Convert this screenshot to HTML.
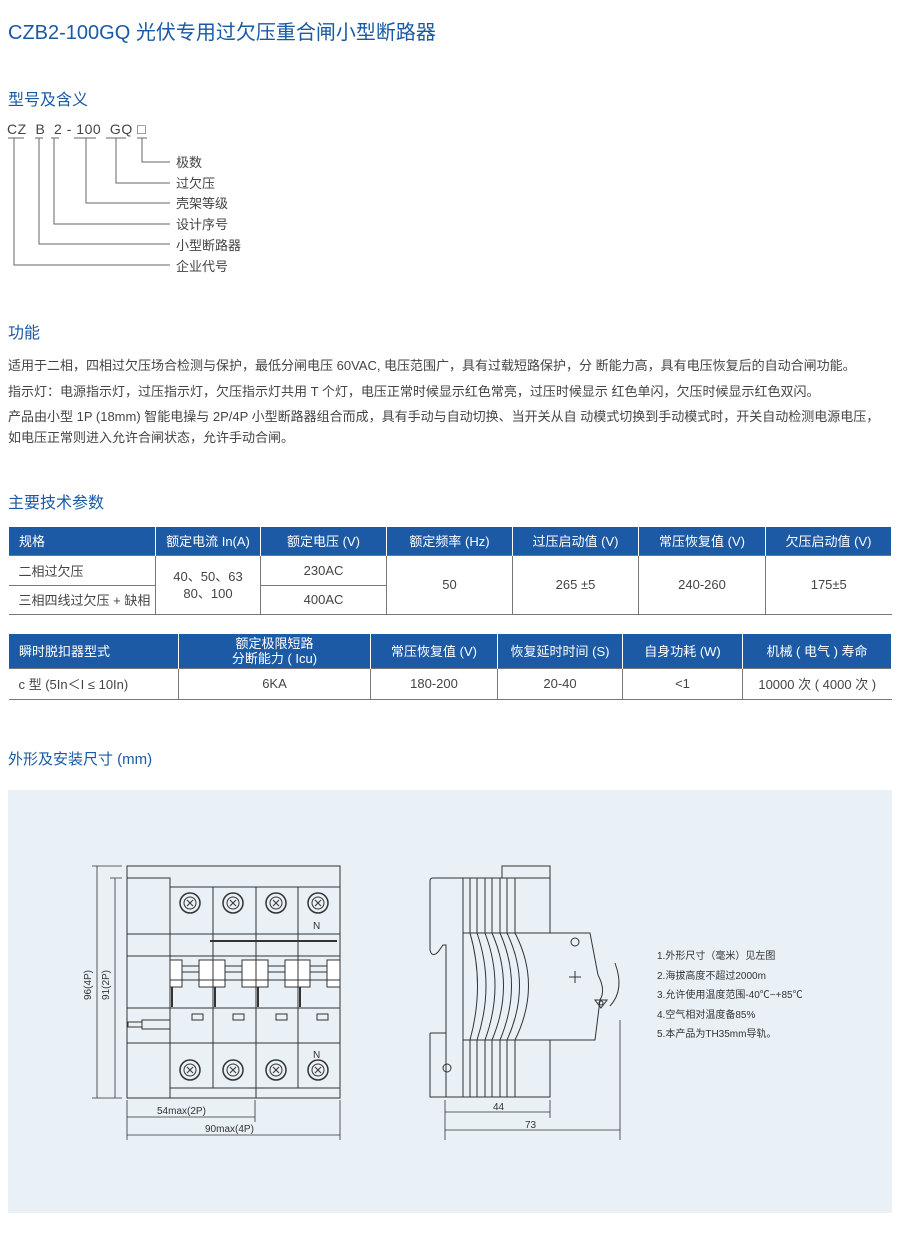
<!DOCTYPE html>
<html><head><meta charset="utf-8"><style>
*{margin:0;padding:0;box-sizing:border-box}
body{width:900px;height:1235px;background:#fff;font-family:"Liberation Sans","Noto Sans CJK SC",sans-serif;color:#444;position:relative;overflow:hidden}
.a{position:absolute;white-space:nowrap}
.h{color:#1a5aa5;font-size:16px}
.p{font-size:13px;color:#444;left:8px}
table{position:absolute;border-collapse:collapse;font-size:13px;color:#444}
td,th{border:1px solid #777;text-align:center;font-weight:normal;padding:0}
th{background:#1d5aa6;color:#fff;border-color:#fff;border-top:none;border-bottom:none}
</style></head><body>
<div class="a" style="left:8px;top:16px;font-size:20px;color:#1a5aa5">CZB2-100GQ 光伏专用过欠压重合闸小型断路器</div>
<div class="a h" style="left:8px;top:86px">型号及含义</div>
<div class="a" style="left:7px;top:121px;font-size:14px;color:#444;letter-spacing:0.5px">CZ&nbsp; B&nbsp; 2 - 100&nbsp; GQ &#9633;</div>
<svg class="a" style="left:0;top:110px" width="300" height="170">
<g stroke="#666" fill="none" stroke-width="1">
<path d="M8 28h16M35 28h8M51 28h8M74 28h22M106 28h20M137 28h10"/>
<path d="M142 28V52H170M116 28V73H170M86 28V93H170M54 28V114H170M39 28V134H170M14 28V155H170"/>
</g></svg>
<div class="a" style="left:176px;top:153px;font-size:13px;line-height:20.7px;color:#444">极数<br>过欠压<br>壳架等级<br>设计序号<br>小型断路器<br>企业代号</div>
<div class="a h" style="left:8px;top:319px">功能</div>
<div class="a p" style="top:355px">适用于二相，四相过欠压场合检测与保护，最低分闸电压 60VAC, 电压范围广，具有过载短路保护，分 断能力高，具有电压恢复后的自动合闸功能。</div>
<div class="a p" style="top:381px">指示灯：电源指示灯，过压指示灯，欠压指示灯共用 T 个灯，电压正常时候显示红色常亮，过压时候显示 红色单闪，欠压时候显示红色双闪。</div>
<div class="a p" style="top:406px">产品由小型 1P (18mm) 智能电操与 2P/4P 小型断路器组合而成，具有手动与自动切换、当开关从自 动模式切换到手动模式时，开关自动检测电源电压，</div>
<div class="a p" style="top:427px">如电压正常则进入允许合闸状态，允许手动合闸。</div>
<div class="a h" style="left:8px;top:489px">主要技术参数</div>
<table style="left:8px;top:527px;width:884px">
<tr style="height:28px"><th style="width:147px;text-align:left;padding-left:10px">规格</th><th style="width:105px">额定电流 In(A)</th><th style="width:126px">额定电压 (V)</th><th style="width:126px">额定频率 (Hz)</th><th style="width:126px">过压启动值 (V)</th><th style="width:127px">常压恢复值 (V)</th><th>欠压启动值 (V)</th></tr>
<tr style="height:30px"><td style="text-align:left;padding-left:10px;border-left:none">二相过欠压</td><td rowspan="2" style="line-height:17px">40、50、63<br>80、100</td><td>230AC</td><td rowspan="2">50</td><td rowspan="2">265 ±5</td><td rowspan="2">240-260</td><td rowspan="2" style="border-right:none">175±5</td></tr>
<tr style="height:29px"><td style="text-align:left;padding-left:10px;border-left:none">三相四线过欠压 + 缺相</td><td>400AC</td></tr>
</table>
<table style="left:8px;top:634px;width:884px">
<tr style="height:34px"><th style="width:170px;text-align:left;padding-left:10px">瞬时脱扣器型式</th><th style="width:192px;line-height:15px">额定极限短路<br>分断能力 ( Icu)</th><th style="width:127px">常压恢复值 (V)</th><th style="width:125px">恢复延时时间 (S)</th><th style="width:120px">自身功耗 (W)</th><th>机械 ( 电气 ) 寿命</th></tr>
<tr style="height:31px"><td style="text-align:left;padding-left:10px;border-left:none">c 型 (5In＜I ≤ 10In)</td><td>6KA</td><td>180-200</td><td>20-40</td><td>&lt;1</td><td style="border-right:none">10000 次 ( 4000 次 )</td></tr>
</table>
<div class="a h" style="left:8px;top:748px;font-size:15px">外形及安装尺寸 (mm)</div>
<div class="a" style="left:8px;top:790px;width:884px;height:423px;background:#e9f0f6"></div>
<svg class="a" style="left:0;top:0" width="900" height="1235">
<g stroke="#333" fill="none" stroke-width="1">
<rect x="127" y="866" width="213" height="232"/>
<path d="M127 878H170V1098M170 887H340M170 934H340M127 934H170M127 956H340M170 1008H340M127 1008H170M127 1043H340M170 1088H340"/>
<path d="M213 887V1088M256 887V1098M298 887V1088"/>
<path d="M210 941H337" stroke-width="2"/>
<g fill="#fff">
<rect x="170" y="960" width="12" height="27"/><rect x="199" y="960" width="14" height="27"/>
<rect x="213" y="960" width="12" height="27"/><rect x="242" y="960" width="14" height="27"/>
<rect x="256" y="960" width="12" height="27"/><rect x="285" y="960" width="14" height="27"/>
<rect x="298" y="960" width="12" height="27"/><rect x="327" y="960" width="13" height="27"/>
</g>
<path d="M182 966h17M182 972h17M225 966h17M225 972h17M268 966h17M268 972h17M310 966h17M310 972h17M170 980h170"/>
<path d="M172 987v20M215 987v20M258 987v20M300 987v20" stroke-width="2"/>
<rect x="192" y="1014" width="11" height="6"/><rect x="233" y="1014" width="11" height="6"/><rect x="276" y="1014" width="11" height="6"/><rect x="317" y="1014" width="11" height="6"/>
<rect x="128" y="1022" width="14" height="5"/><rect x="142" y="1020" width="28" height="9"/>
<g stroke-width="1.5">
<circle cx="190" cy="903" r="10"/><circle cx="233" cy="903" r="10"/><circle cx="276" cy="903" r="10"/><circle cx="318" cy="903" r="10"/>
<circle cx="190" cy="1070" r="10"/><circle cx="233" cy="1070" r="10"/><circle cx="276" cy="1070" r="10"/><circle cx="318" cy="1070" r="10"/>
</g>
<g><circle cx="190" cy="903" r="6"/><circle cx="233" cy="903" r="6"/><circle cx="276" cy="903" r="6"/><circle cx="318" cy="903" r="6"/>
<circle cx="190" cy="1070" r="6"/><circle cx="233" cy="1070" r="6"/><circle cx="276" cy="1070" r="6"/><circle cx="318" cy="1070" r="6"/></g>
<path d="M187 900l6 6M193 900l-6 6M230 900l6 6M236 900l-6 6M273 900l6 6M279 900l-6 6M315 900l6 6M321 900l-6 6M187 1067l6 6M193 1067l-6 6M230 1067l6 6M236 1067l-6 6M273 1067l6 6M279 1067l-6 6M315 1067l6 6M321 1067l-6 6"/>
<path d="M92 866h30M110 878h12M92 1098h30M97 866V1098M115 878V1098M127 1100V1140M255 1100V1122M340 1100V1140M127 1117H255M127 1135H340" stroke-width="0.8"/>
<path d="M502 878V866H550V933"/>
<path d="M430 881Q430 878 433 878H550M430 881V950Q432 958 438 952L443 945H446V1097M430 1033V1097H550V1040"/>
<path d="M430 1033H446"/>
<path d="M463 878V1097M550 878V933M463 933H590L598 975M600 1000L595 1040H463"/>
<path d="M598 975Q606 990 600 1000"/>
<path d="M470 878V933Q485 985 470 1040V1097M477 878V933Q495 985 477 1040V1097M485 878V933Q505 985 485 1040V1097M492 878V933Q515 985 492 1040V1097M500 878V933Q523 985 500 1040V1097M507 878V933Q532 985 507 1040V1097M515 878V933Q542 985 515 1040V1097"/>
<path d="M615 963Q625 990 610 1006"/>
<path d="M595 1000l12 0-6 8z"/>
<circle cx="575" cy="942" r="4"/><circle cx="447" cy="1068" r="4"/><circle cx="601" cy="1003" r="2"/>
<path d="M569 977h12M575 971v12"/>
<path d="M445 1100V1140M550 1100V1118M620 1020V1140M445 1112H550M445 1130H620" stroke-width="0.8"/>
</g>
<g font-size="10" fill="#333" font-family="Liberation Sans,Noto Sans CJK SC,sans-serif">
<text x="313" y="929">N</text><text x="313" y="1058">N</text>
<text x="157" y="1114">54max(2P)</text><text x="205" y="1132">90max(4P)</text>
<text x="493" y="1110">44</text><text x="525" y="1128">73</text>
<text transform="translate(91 1000) rotate(-90)">96(4P)</text>
<text transform="translate(109 1000) rotate(-90)">91(2P)</text>
<text x="657" y="959">1.外形尺寸（毫米）见左图</text>
<text x="657" y="979">2.海拔高度不超过2000m</text>
<text x="657" y="998">3.允许使用温度范围-40℃~+85℃</text>
<text x="657" y="1018">4.空气相对温度备85%</text>
<text x="657" y="1037">5.本产品为TH35mm导轨。</text>
</g>
</svg>
</body></html>
